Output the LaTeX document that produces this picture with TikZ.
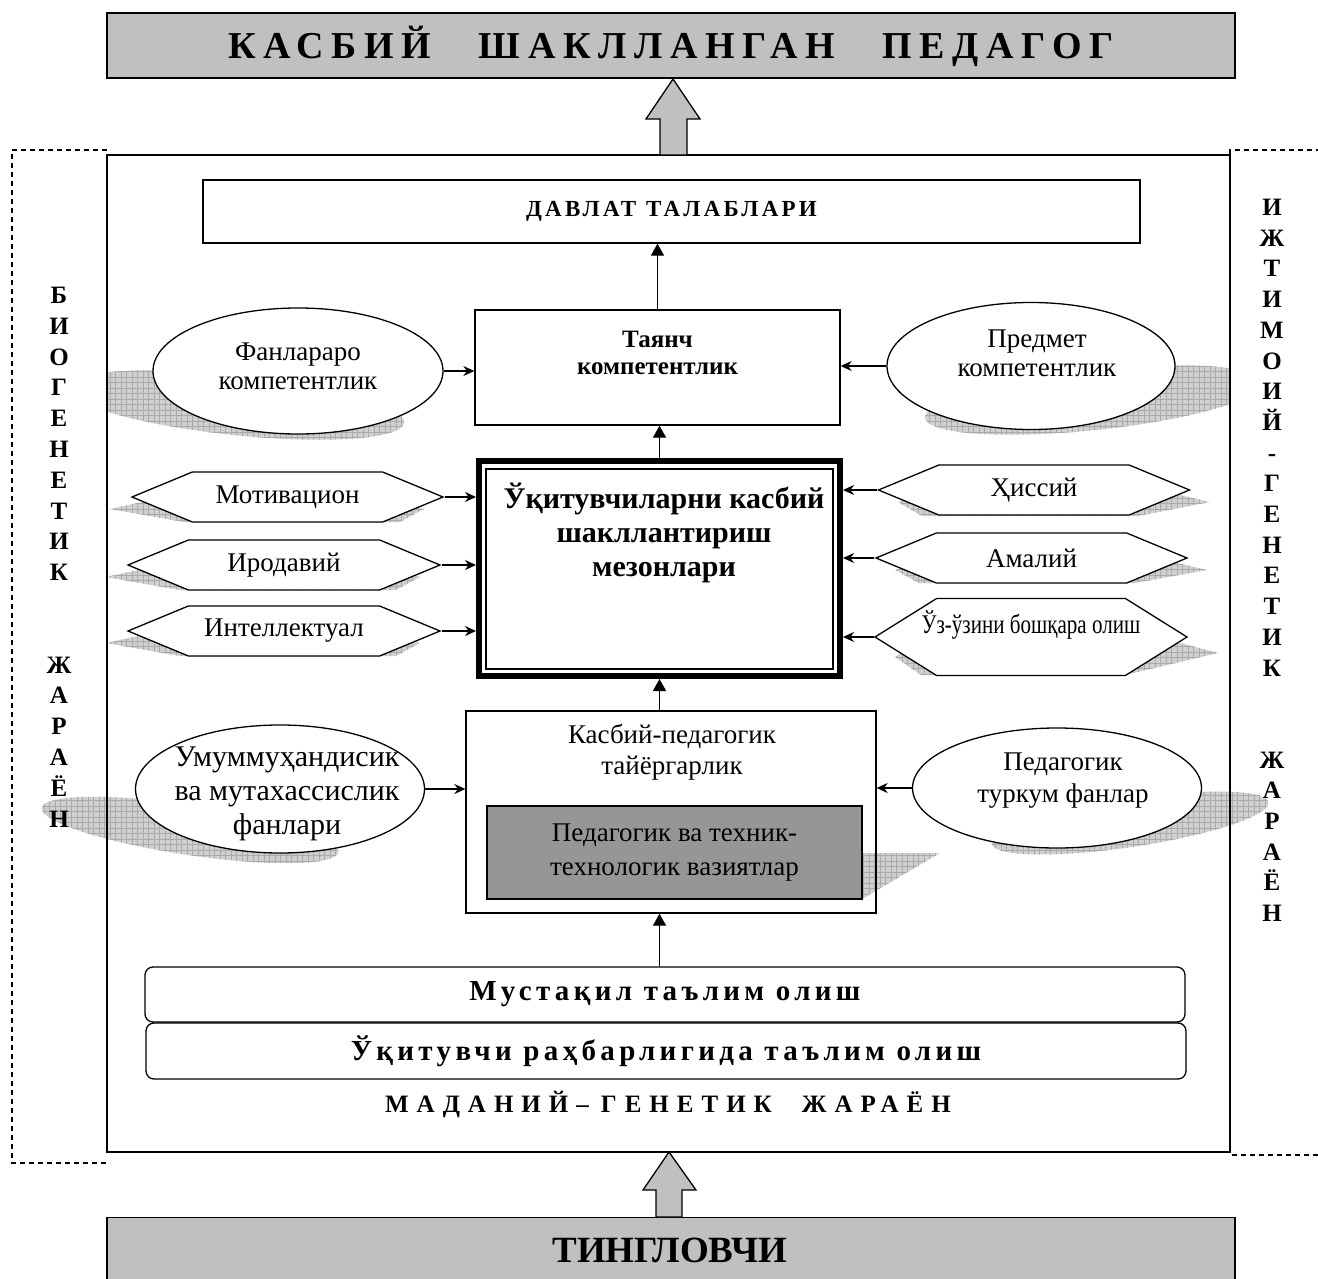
\documentclass[tikz,border=0pt]{standalone}
\usepackage{fontspec}
\setmainfont{Liberation Serif}
\newfontfamily\goalfont[LetterSpace=20]{Liberation Serif}
\newfontfamily\rowfont[LetterSpace=15]{Liberation Serif}
\newfontfamily\stagefont[LetterSpace=32]{Liberation Serif}
\newfontfamily\statefont[LetterSpace=14]{Liberation Serif}
\usetikzlibrary{shapes.geometric,shapes.symbols,arrows.meta,patterns}
\definecolor{goalgray}{RGB}{192,192,192}
\definecolor{sitgray}{RGB}{150,150,150}
\definecolor{shadefill}{RGB}{208,208,208}
\definecolor{shadeline}{RGB}{170,170,170}
\pgfdeclarepatternformonly{shadegrid}{\pgfqpoint{-1pt}{-1pt}}{\pgfqpoint{6pt}{6pt}}{\pgfqpoint{5.5pt}{5.5pt}}%
{\pgfsetlinewidth{0.7pt}%
 \pgfpathmoveto{\pgfqpoint{0pt}{0pt}}\pgfpathlineto{\pgfqpoint{0pt}{5.6pt}}%
 \pgfpathmoveto{\pgfqpoint{0pt}{0pt}}\pgfpathlineto{\pgfqpoint{5.6pt}{0pt}}%
 \pgfusepath{stroke}}

\begin{document}
\begin{tikzpicture}[x=1pt,y=-1pt,line width=1.3pt,
  castshade/.style={fill=shadefill,postaction={pattern=shadegrid,pattern color=shadeline}},
  hexa/.style={signal,signal to=east and west,signal pointer angle=45,draw,fill=white,
    minimum width=311,minimum height=50,inner sep=0,font=\fontsize{27}{30}\selectfont},
  oval/.style={ellipse,draw,fill=white,inner sep=0},
  ovaltext/.style={align=center,inner sep=0,font=\fontsize{27}{29}\selectfont},
  plainbox/.style={draw,inner sep=0},
  rowbox/.style={draw,rounded corners=8,fill=white,minimum width=1040,inner sep=0,
    font=\rowfont\bfseries\fontsize{29}{32}\selectfont},
  sideletter/.style={inner sep=0,text height=17pt,text depth=0pt,font=\bfseries\fontsize{25}{25}\selectfont},
  sideframe/.style={dash pattern=on 5pt off 4pt},
  link/.style={-{Stealth[length=11pt,width=10pt]}},
  uparrow/.style={-{Triangle[length=12pt,width=13pt]}}]
\useasboundingbox (0,0) rectangle (1318,1279);
\clip (0,0) rectangle (1318,1279);
\draw[sideframe] (107,150) -- (12,150) -- (12,1163) -- (107,1163);
\draw[sideframe] (1330,150) -- (1230,150) -- (1230,1155) -- (1330,1155);
\begin{scope}
\clip (107,155) rectangle (1230,1152);
\fill[castshade,rotate around={-6:(235,405)}] (235,405) ellipse [x radius=170,y radius=30];
\fill[castshade,rotate around={6:(1094,400)}] (1094,400) ellipse [x radius=170,y radius=30];
\end{scope}
\fill[castshade,rotate around={-8.5:(190,830)}] (190,830) ellipse [x radius=150,y radius=25];
\fill[castshade,rotate around={8.5:(1130,823)}] (1130,823) ellipse [x radius=140,y radius=24];
\fill[castshade] (110,509) -- (142,502) -- (402,502) -- (424,509) -- (400,522) -- (184,522) -- cycle;
\fill[castshade] (106,577) -- (138,570) -- (398,570) -- (420,577) -- (396,590) -- (180,590) -- cycle;
\fill[castshade] (106,643) -- (138,636) -- (398,636) -- (420,643) -- (396,656) -- (180,656) -- cycle;
\fill[castshade] (1210,502) -- (1180,495) -- (920,495) -- (898,502) -- (922,516) -- (1138,516) -- cycle;
\fill[castshade] (1207,570) -- (1177,563) -- (917,563) -- (895,570) -- (919,583) -- (1135,583) -- cycle;
\fill[castshade] (1218,653) -- (1177,642) -- (917,642) -- (895,657) -- (921,675) -- (1125,675) -- cycle;
\fill[castshade] (850,853) -- (940,853) -- (862,899) -- (850,899) -- cycle;
\node[plainbox,minimum width=1123,minimum height=997] (frame) at (668.5,653.5) {};
\node[plainbox,fill=goalgray,minimum width=1128,minimum height=65,text height=26pt,text depth=0pt,
  font=\goalfont\bfseries\fontsize{38}{38}\selectfont] (goal) at (671,45.5) {КАСБИЙ\hspace{48pt}ШАКЛЛАНГАН\hspace{48pt}ПЕДАГОГ};
\draw[fill=goalgray] (660,155) -- (660,119) -- (646,119) -- (673,79) -- (700,119) -- (687,119) -- (687,155) -- cycle;
\node[plainbox,minimum width=937,minimum height=63,font=\statefont\bfseries\fontsize{23}{23}\selectfont] (state) at (671.5,211.5) {ДАВЛАТ\hspace{10pt}ТАЛАБЛАРИ};
\node[plainbox,minimum width=365,minimum height=115] (base) at (657.5,367.5) {};
\node[anchor=north,align=center,inner sep=0,font=\bfseries\fontsize{25}{27}\selectfont] (basetext) at (657.5,330) {Таянч\\компетентлик};
\node[oval,minimum width=290,minimum height=126] (inter) at (298,371) {};
\node[ovaltext] (intertext) at (298,366) {Фанлараро\\компетентлик};
\node[oval,minimum width=288,minimum height=127] (subj) at (1031,366) {};
\node[ovaltext] (subjtext) at (1037,353) {Предмет\\компетентлик};
\node[draw,line width=6pt,minimum width=361,minimum height=215,inner sep=0] (crit) at (659.5,568.5) {};
\draw[line width=1.2pt] ([shift={(10,11)}]crit.north west) rectangle ([shift={(-10,-10)}]crit.south east);
\node[anchor=north,align=center,inner sep=0,font=\bfseries\fontsize{30}{34}\selectfont] (crittext) at (664,482) {Ўқитувчиларни касбий\\шакллантириш\\мезонлари};
\node[hexa] (motiv) at (287.5,497) {Мотивацион};
\node[hexa,minimum width=312] (will) at (284,565) {Иродавий};
\node[hexa,minimum width=312] (intel) at (284,631) {Интеллектуал};
\node[hexa] (emot) at (1034,490) {Ҳиссий};
\node[hexa] (pract) at (1031.5,558) {Амалий};
\node[hexa,signal pointer angle=64,minimum width=312,minimum height=77] (selfc) at (1031,637) {\raisebox{4pt}[0pt][0pt]{\makebox[0pt]{\scalebox{0.78}[1]{Ўз-ўзини бошқара олиш}}}};
\node[plainbox,minimum width=410,minimum height=202] (prep) at (671,812) {};
\node[anchor=north,align=center,inner sep=0,font=\fontsize{27}{31}\selectfont] (preptext) at (672,724) {Касбий-педагогик\\тайёргарлик};
\node[plainbox,fill=sitgray,minimum width=375,minimum height=93,align=center,font=\fontsize{27}{34}\selectfont] (sit) at (674.5,852.5) {Педагогик ва техник-\\технологик вазиятлар};
\node[oval,minimum width=289,minimum height=128] (eng) at (280,789) {};
\node[ovaltext,font=\fontsize{30}{34}\selectfont] (engtext) at (287,794) {Умуммуҳандисик\\ва мутахассислик\\фанлари};
\node[oval,minimum width=289,minimum height=120] (peds) at (1057,788) {};
\node[ovaltext,font=\fontsize{27}{32}\selectfont] (pedstext) at (1063,781) {Педагогик\\туркум фанлар};
\node[rowbox,minimum height=55] (selfst) at (665,994.5) {Мустақил таълим олиш};
\node[rowbox,minimum height=56] (guided) at (666,1051) {Ўқитувчи раҳбарлигида таълим олиш};
\node[inner sep=0,font=\stagefont\bfseries\fontsize{25}{25}\selectfont] (stage) at (668,1105) {МАДАНИЙ–\hspace{12pt}ГЕНЕТИК\hspace{30pt}ЖАРАЁН};
\node[plainbox,fill=goalgray,minimum width=1128,minimum height=90,anchor=north] (learner) at (671,1217) {};
\node[inner sep=0,font=\bfseries\fontsize{37}{37}\selectfont] (learnertext) at (670,1250) {ТИНГЛОВЧИ};
\draw[fill=goalgray] (656,1217) -- (656,1190) -- (643,1190) -- (669,1152) -- (696,1190) -- (682,1190) -- (682,1217) -- cycle;
\draw[uparrow] (base.north) -- (base.north |- state.south);
\draw[uparrow] (crit.north) -- (crit.north |- base.south);
\draw[link] (inter.east) -- (inter.east -| base.west);
\draw[link] (subj.west) -- (subj.west -| base.east);
\draw[link] (motiv.east) -- (motiv.east -| crit.west);
\draw[link] (will.east) -- (will.east -| crit.west);
\draw[link] (intel.east) -- (intel.east -| crit.west);
\draw[link] (emot.west) -- (emot.west -| crit.east);
\draw[link] (pract.west) -- (pract.west -| crit.east);
\draw[link] (selfc.west) -- (selfc.west -| crit.east);
\draw[uparrow] (crit.south |- prep.north) -- (crit.south);
\draw[link] (eng.east) -- (eng.east -| prep.west);
\draw[link] (peds.west) -- (peds.west -| prep.east);
\draw[uparrow] (crit.south |- selfst.north) -- (crit.south |- prep.south);
\foreach \ch/\k in {Б/0,И/1,О/2,Г/3,Е/4,Н/5,Е/6,Т/7,И/8,К/9,Ж/12,А/13,Р/14,А/15,Ё/16,Н/17}
  \node[sideletter] (bio\k) at (59,{295+30.8*\k}) {\ch};
\foreach \ch/\k in {И/0,Ж/1,Т/2,И/3,М/4,О/5,И/6,Й/7,-/8,Г/9,Е/10,Н/11,Е/12,Т/13,И/14,К/15,Ж/18,А/19,Р/20,А/21,Ё/22,Н/23}
  \node[sideletter] (soc\k) at (1272,{207+30.7*\k}) {\ch};
\end{tikzpicture}
\end{document}
